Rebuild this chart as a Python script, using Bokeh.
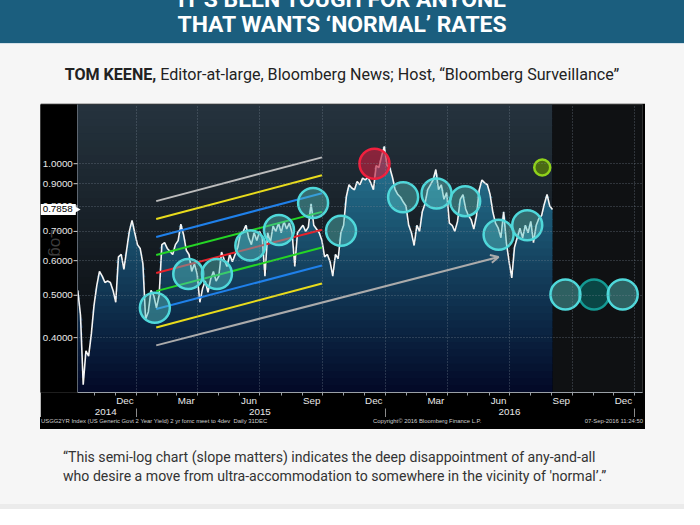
import numpy as np
import pandas as pd
from bokeh.plotting import figure
from bokeh.models import (Range1d, LinearAxis, FixedTicker, Grid, Arrow, OpenHead, Div, Spacer)
from bokeh.layouts import column, row
from bokeh.core.properties import value
from bokeh.embed import file_html
from bokeh.resources import INLINE

# ---------------- data ----------------
# US Generic Govt 2 Year Yield, sampled every ~4 days
yield_2y = [
    0.513, 0.450, 0.312, 0.373, 0.363, 0.408, 0.475, 0.526, 0.567, 0.553,
    0.535, 0.539, 0.535, 0.513, 0.482, 0.612, 0.620, 0.573, 0.634, 0.700,
    0.742, 0.695, 0.653, 0.640, 0.591, 0.441, 0.458, 0.513, 0.500, 0.468,
    0.500, 0.653, 0.660, 0.640, 0.630, 0.620, 0.653, 0.667, 0.727, 0.688,
    0.634, 0.620, 0.567, 0.590, 0.559, 0.482, 0.518, 0.539, 0.508, 0.545,
    0.567, 0.539, 0.553, 0.628, 0.603, 0.582, 0.620, 0.597, 0.620, 0.644,
    0.695, 0.700, 0.723, 0.677, 0.653, 0.695, 0.667, 0.700, 0.677, 0.553,
    0.695, 0.660, 0.720, 0.700, 0.731, 0.695, 0.738, 0.709, 0.731, 0.695,
    0.582, 0.695, 0.709, 0.723, 0.700, 0.716, 0.809, 0.723, 0.709, 0.695,
    0.667, 0.612, 0.620, 0.597, 0.553, 0.620, 0.606, 0.695, 0.723, 0.840,
    0.895, 0.880, 0.872, 0.910, 0.895, 0.927, 0.918, 0.931, 0.904, 0.872,
    0.990, 0.980, 1.041, 1.095, 0.990, 0.980, 0.931, 0.872, 0.850, 0.838,
    0.817, 0.800, 0.723, 0.695, 0.650, 0.723, 0.700, 0.776, 0.809, 0.872,
    0.895, 0.918, 0.970, 0.872, 0.895, 0.829, 0.859, 0.731, 0.723, 0.700,
    0.738, 0.829, 0.850, 0.788, 0.761, 0.745, 0.709, 0.761, 0.872, 0.918,
    0.904, 0.895, 0.850, 0.776, 0.731, 0.712, 0.677, 0.776, 0.660, 0.597,
    0.548, 0.644, 0.677, 0.712, 0.677, 0.723, 0.695, 0.738, 0.660, 0.723,
    0.749, 0.761, 0.809, 0.850, 0.800, 0.786,
]
series_first_day = "2014-10-07"
series_last_day = "2016-09-02"
last_price = 0.7858

# FOMC meetings (circles) and the level each one is drawn at
fomc_dates = ["2015-01-28", "2015-03-18", "2015-04-29", "2015-06-17", "2015-07-29",
              "2015-09-17", "2015-10-28", "2015-12-16", "2016-01-27", "2016-03-16",
              "2016-04-27", "2016-06-15", "2016-07-27", "2016-08-18",
              "2016-09-21", "2016-11-02", "2016-12-14"]
fomc_yields = [0.468, 0.559, 0.559, 0.650, 0.705, 0.813, 0.702, 1.000, 0.838, 0.855,
               0.821, 0.688, 0.723, 0.980, 0.502, 0.502, 0.502]
fomc_kind = ["past"] * 7 + ["hike"] + ["past"] * 5 + ["target"] + ["future", "future_dark", "future"]

# regression channel (centre +/- 1..3 dev), plus the extended lower line (arrow)
channel_start = "2015-01-30"
channel_end = "2015-09-30"
channel_start_values = [0.821, 0.747, 0.680, 0.618, 0.5625, 0.511, 0.465, 0.422]
channel_end_values = [1.034, 0.941, 0.856, 0.776, 0.706, 0.643, 0.585, 0.532]
trend_start = ("2015-01-30", 0.384)
trend_end = ("2016-06-15", 0.612)

# axes
y_ticks = [0.4, 0.5, 0.6, 0.7, 0.8, 0.9, 1.0]
y_tick_labels = ["0.4000", "0.5000", "0.6000", "0.7000", "0.8000", "0.9000", "1.0000"]
month_labels = ["Dec", "Mar", "Jun", "Sep", "Dec", "Mar", "Jun", "Sep", "Dec"]
month_label_dates = ["2014-12-15", "2015-03-15", "2015-06-15", "2015-09-15", "2015-12-15",
                     "2016-03-15", "2016-06-15", "2016-09-15", "2016-12-15"]
year_labels = ["2014", "2015", "2016"]
year_label_dates = ["2014-11-17", "2015-07-01", "2016-07-01"]
year_starts = ["2015-01-01", "2016-01-01", "2017-01-01"]
quarter_starts = ["2015-01-01", "2015-04-01", "2015-07-01", "2015-10-01", "2016-01-01",
                  "2016-04-01", "2016-07-01", "2016-10-01", "2017-01-01"]
axis_first_day = "2014-10-06 14:00"
axis_last_day = "2017-01-12"
y_low, y_high = 0.2996, 1.366


def ms(s):
    return pd.Timestamp(s).value / 1e6


def mix(c_top, c_bot, t):
    a = np.array(c_top, float)
    b = np.array(c_bot, float)
    c = a + (b - a) * t
    return "#%02x%02x%02x" % tuple(int(round(v)) for v in c)


dates = pd.date_range(series_first_day, series_last_day, periods=len(yield_2y))
yv = np.array(yield_2y)

FONT = "Liberation Sans"
FIG_W, FIG_H = 605, 314
LABEL_COL = 37          # black column holding the y labels (inside the frame)
BORDER_R = 3
xa0, xa1 = ms(axis_first_day), ms(axis_last_day)
mpp = (xa1 - xa0) / (FIG_W - LABEL_COL - BORDER_R)      # ms per pixel
x_ext = xa0 - LABEL_COL * mpp

p = figure(width=FIG_W, height=FIG_H, output_backend="svg", toolbar_location=None,
           x_axis_type=None, y_axis_type="log", y_axis_location=None,
           x_range=Range1d(x_ext, xa1), y_range=Range1d(y_low, y_high),
           min_border_left=0, min_border_right=BORDER_R, min_border_top=1, min_border_bottom=0,
           background_fill_color="#000000", border_fill_color="#000000",
           outline_line_color=None)
# no default grids: the Bloomberg grid is added below
p.xgrid.grid_line_color = None
p.ygrid.grid_line_color = None
p.xgrid.visible = False
p.ygrid.visible = False

# background gradient bands and shaded area gradient
nb = 40
edges = np.geomspace(y_low, y_high, nb + 1)
tfrac = [1 - (j + 0.5) / nb for j in range(nb)]
bg_cols = [mix((37, 51, 62), (4, 5, 7), t) for t in tfrac]
area_cols = [mix((45, 140, 168), (2, 8, 38), t) for t in tfrac]
data_end = ms(series_last_day)
p.quad(left=xa0, right=data_end, bottom=edges[:-1], top=edges[1:] * 1.004,
       fill_color=bg_cols, line_color=None, level="underlay")
p.quad(left=data_end, right=xa1, bottom=y_low, top=y_high,
       fill_color="#0f1113", line_color=None, level="underlay")
for j in range(nb):
    p.varea(x=dates, y1=edges[j], y2=np.clip(yv, edges[j], edges[j + 1] * 1.004),
            fill_color=area_cols[j], level="underlay")

# grids
GRID = dict(grid_line_color="#7d8a96", grid_line_alpha=0.6, grid_line_dash="1 2", level="glyph")
p.add_layout(Grid(dimension=1, ticker=FixedTicker(ticks=y_ticks), **GRID))
p.add_layout(Grid(dimension=0, ticker=FixedTicker(ticks=[ms(d) for d in quarter_starts]), **GRID))

# price line
p.line(dates, yv, line_color="#f4f4f4", line_width=1.6)

# channel lines
ch_colors = ["#bdbdbd", "#e9dc1c", "#1f80ea", "#25d425", "#e8222b", "#25d425", "#1f80ea", "#e9dc1c"]
p.segment(x0=[ms(channel_start)] * len(channel_start_values), y0=channel_start_values,
          x1=[ms(channel_end)] * len(channel_end_values), y1=channel_end_values,
          line_color=ch_colors, line_width=2)
p.add_layout(Arrow(end=OpenHead(size=8, line_color="#ababab", line_width=2),
                   x_start=ms(trend_start[0]), y_start=trend_start[1],
                   x_end=ms(trend_end[0]), y_end=trend_end[1],
                   line_color="#ababab", line_width=2))

# FOMC circles
style = {
    "past": dict(fill="#55c0c0", alpha=0.45, line="#4fd8da", size=30),
    "hike": dict(fill="#c0203f", alpha=0.65, line="#f0203e", size=30),
    "target": dict(fill="#4d6e12", alpha=0.95, line="#8fd11a", size=16),
    "future": dict(fill="#55c0c0", alpha=0.45, line="#4fd8da", size=30),
    "future_dark": dict(fill="#0b4a48", alpha=0.95, line="#149a93", size=30),
}
fd = pd.to_datetime(fomc_dates)
for group in (["future_dark"], ["past", "hike", "target", "future"]):
    idx = [i for i, k in enumerate(fomc_kind) if k in group]
    p.scatter(x=[fd[i] for i in idx], y=[fomc_yields[i] for i in idx],
              size=[style[fomc_kind[i]]["size"] for i in idx],
              fill_color=[style[fomc_kind[i]]["fill"] for i in idx],
              fill_alpha=[style[fomc_kind[i]]["alpha"] for i in idx],
              line_color=[style[fomc_kind[i]]["line"] for i in idx],
              line_width=2.5)

# black label column on the left of the price area, with the y scale labels
p.quad(left=x_ext, right=xa0, bottom=y_low, top=y_high, fill_color="#000000",
       line_color=None, level="annotation")
p.segment(x0=[xa0], y0=[y_low], x1=[xa0], y1=[y_high], line_color="#5d6670",
          line_width=1, level="overlay")
p.scatter(x=[xa0 - 2 * mpp] * len(y_ticks), y=y_ticks, marker="dash", size=4,
          line_color="#cfcfcf", level="overlay")
p.text(x=[xa0 - 4.7 * mpp] * len(y_ticks), y=y_ticks, text=y_tick_labels,
       text_align="right", text_baseline="middle", text_font=value(FONT),
       text_font_size="9.8px", text_color="#e8e8e8", level="overlay")
# "Log" watermark
p.text(x=[x_ext + 16 * mpp], y=[0.66], text=["Log"], angle=-np.pi / 2,
       text_align="center", text_baseline="middle", text_font=value(FONT),
       text_font_size="17px", text_color="#8a8a8a", text_alpha=0.45, level="overlay")
# last price tag
p.rect(x=[x_ext + 17.8 * mpp], y=[last_price], width=35, height=11,
       width_units="screen", height_units="screen", fill_color="#ffffff",
       line_color=None, level="overlay")
p.scatter(x=[xa0 - 1 * mpp], y=[last_price], marker="triangle", angle=-np.pi / 2,
          size=7, fill_color="#ffffff", line_color=None, level="overlay")
p.text(x=[x_ext + 2.2 * mpp], y=[last_price], text=["%.4f" % last_price],
       text_align="left", text_baseline="middle", text_font=value(FONT),
       text_font_size="9.8px", text_color="#000000", level="overlay")

# x axes: months and years
month_axis = LinearAxis(
    ticker=FixedTicker(ticks=[ms(d) for d in month_label_dates],
                       minor_ticks=[ms(d) for d in pd.date_range("2014-11-01", "2017-01-01", freq="MS")]),
    major_label_overrides={ms(d): lab for d, lab in zip(month_label_dates, month_labels)},
    bounds=(xa0, xa1),
    major_tick_out=0, major_tick_in=0, minor_tick_out=3, minor_tick_in=0,
    minor_tick_line_color="#9aa0a6", axis_line_color="#9aa0a6",
    major_label_standoff=-1, major_label_text_font=FONT, major_label_text_font_size="9.8px",
    major_label_text_color="#e8e8e8")
year_axis = LinearAxis(
    ticker=FixedTicker(ticks=[ms(d) for d in year_label_dates],
                       minor_ticks=[ms(d) for d in year_starts]),
    major_label_overrides={ms(d): lab for d, lab in zip(year_label_dates, year_labels)},
    major_tick_out=0, major_tick_in=0, minor_tick_out=12, minor_tick_in=0,
    minor_tick_line_color="#8a8a8a", axis_line_color=None,
    major_label_standoff=-12, major_label_text_font=FONT, major_label_text_font_size="9.8px",
    major_label_text_color="#e8e8e8")
p.add_layout(month_axis, "below")
p.add_layout(year_axis, "below")

# ---------------- page around the chart ----------------
header_html = (
    '<div style="position:relative;width:684px;height:44px;background:#1b5e7e;overflow:hidden;'
    'border-bottom:1px solid #d3e0e8;">'
    '<div style="position:absolute;left:0;top:-13.3px;width:684px;text-align:center;'
    'font-family:Roboto;font-weight:700;font-size:22.9px;line-height:25.2px;color:#ffffff;'
    'white-space:nowrap;">IT\u2019S BEEN TOUGH FOR ANYONE<br>THAT WANTS \u2018NORMAL\u2019 RATES</div></div>')
sub_html = (
    '<div style="width:684px;height:58px;background:#f6f6f6;padding-top:19.7px;box-sizing:border-box;'
    'text-align:center;font-family:Roboto;font-size:16.1px;line-height:20px;color:#222222;white-space:nowrap;">'
    '<b style="font-weight:700;">TOM KEENE,</b> Editor-at-large, Bloomberg News; Host, '
    '\u201cBloomberg Surveillance\u201d</div>')
footer_html = (
    '<div style="position:relative;width:605px;height:12px;background:#000000;overflow:hidden;'
    'font-family:\'Liberation Sans\';font-size:5.9px;line-height:7px;color:#cfcfcf;white-space:nowrap;">'
    '<span style="position:absolute;left:1px;top:1px;">USGG2YR Index (US Generic Govt 2 Year Yield) '
    '2 yr fomc meet to 4dev&nbsp; Daily 31DEC</span>'
    '<span style="position:absolute;left:333px;top:1px;">Copyright\u00a9 2016 Bloomberg Finance L.P.</span>'
    '<span style="position:absolute;right:2px;top:1px;">07-Sep-2016 11:24:50</span></div>')
quote_html = (
    '<div style="position:relative;width:684px;height:80px;background:#f6f6f6;padding:19px 0 0 63px;'
    'box-sizing:border-box;font-family:Roboto;font-size:14.1px;line-height:19.4px;color:#333333;'
    'white-space:nowrap;">'
    '\u201cThis semi-log chart (slope matters) indicates the deep disappointment of any-and-all<br>'
    'who desire a move from ultra-accommodation to somewhere in the vicinity of \'normal\u2019.\u201d'
    '<div style="position:absolute;left:0;bottom:0;width:684px;height:5px;background:#ebebeb;"></div></div>')

Z = (0, 0, 0, 0)
header = Div(text=header_html, width=684, height=45, margin=Z)
sub = Div(text=sub_html, width=684, height=58, margin=Z)
footer = Div(text=footer_html, width=605, height=12, margin=Z)
quote = Div(text=quote_html, width=684, height=80, margin=Z)
mid = row(Spacer(width=40, height=326, margin=Z), column(p, footer, spacing=0),
          Spacer(width=39, height=326, margin=Z), spacing=0)
page = column(header, sub, mid, quote, spacing=0, styles={"background-color": "#f6f6f6"})

open("out.html", "w").write(file_html(page, INLINE))
